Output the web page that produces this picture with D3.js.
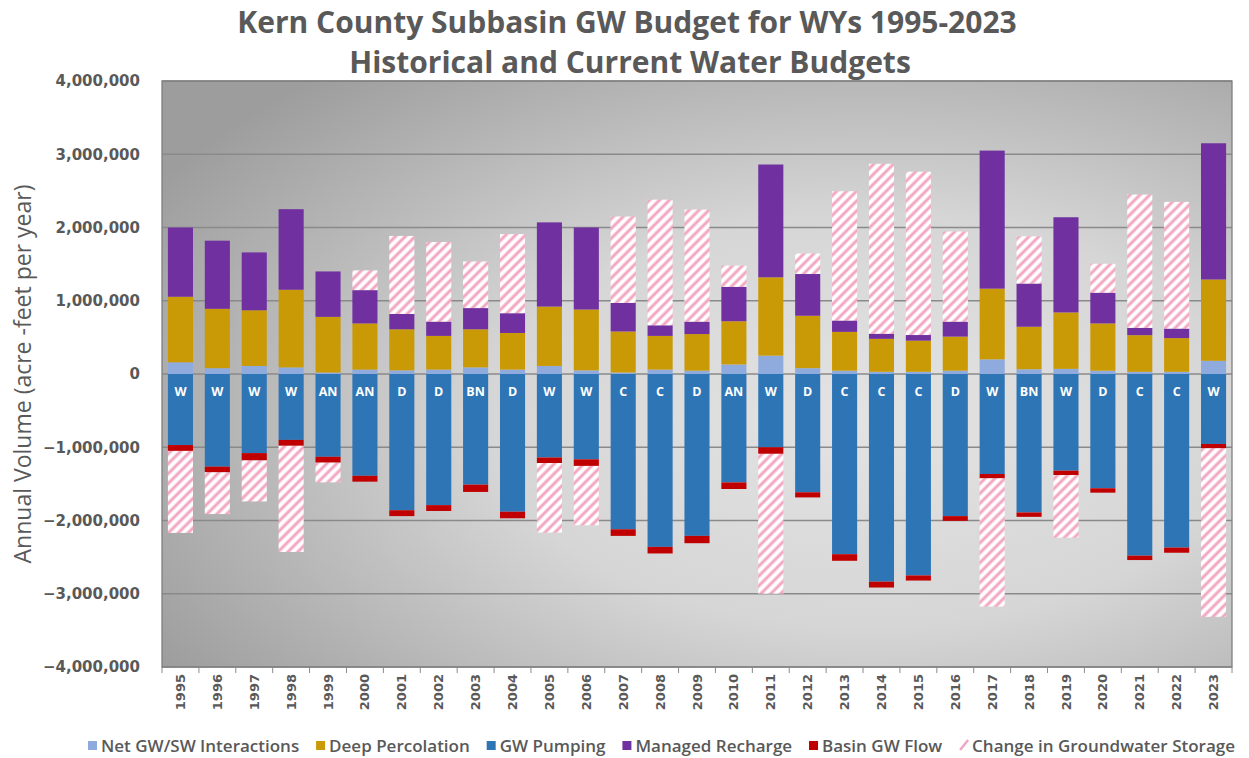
<!DOCTYPE html>
<html>
<head>
<meta charset="utf-8">
<script src="https://cdn.jsdelivr.net/npm/d3@7"></script>
<style>
    body { margin: 0; background: #fff; }
    svg { display: block; font-family: "Open Sans", sans-serif; }
</style>
</head>
<body>
<svg id="chart" width="1249" height="758"></svg>
<script>
// values in acre-feet
var years = ["1995","1996","1997","1998","1999","2000","2001","2002","2003","2004",
             "2005","2006","2007","2008","2009","2010","2011","2012","2013","2014",
             "2015","2016","2017","2018","2019","2020","2021","2022","2023"];
var yearTypes = ["W","W","W","W","AN","AN","D","D","BN","D",
                 "W","W","C","C","D","AN","W","D","C","C",
                 "C","D","W","BN","W","D","C","C","W"];
var netGWSW = [160000,80000,110000,90000,20000,60000,50000,60000,90000,60000,
               110000,50000,20000,60000,45000,130000,250000,80000,45000,30000,
               30000,45000,200000,65000,70000,45000,30000,30000,180000];
var deepPercolation = [895000,810000,760000,1060000,760000,630000,560000,460000,520000,500000,
                       810000,830000,560000,460000,500000,590000,1070000,715000,530000,450000,
                       425000,465000,965000,580000,770000,645000,500000,460000,1110000];
var gwPumping = [-970000,-1265000,-1080000,-900000,-1130000,-1390000,-1860000,-1790000,-1510000,-1880000,
                 -1140000,-1165000,-2120000,-2360000,-2210000,-1480000,-1000000,-1615000,-2460000,-2835000,
                 -2750000,-1940000,-1365000,-1890000,-1320000,-1560000,-2480000,-2370000,-955000];
var managedRecharge = [945000,930000,790000,1100000,620000,455000,210000,195000,290000,270000,
                       1150000,1120000,390000,145000,170000,470000,1540000,570000,155000,70000,
                       77000,205000,1885000,590000,1300000,420000,100000,130000,1860000];
var basinGWFlow = [-80000,-77000,-100000,-80000,-80000,-80000,-80000,-80000,-100000,-90000,
                   -75000,-90000,-90000,-90000,-100000,-90000,-90000,-70000,-90000,-80000,
                   -70000,-65000,-60000,-60000,-60000,-60000,-60000,-70000,-60000];
var storageChange = [-1120000,-570000,-560000,-1450000,-270000,270000,1065000,1087000,636000,1080000,
                     -950000,-810000,1180000,1715000,1530000,290000,-1910000,280000,1765000,2320000,
                     2230000,1230000,-1750000,645000,-855000,395000,1820000,1730000,-2300000];
var yTicks = [-4000000,-3000000,-2000000,-1000000,0,1000000,2000000,3000000,4000000];

var series = [
    {key: "net", name: "Net GW/SW Interactions", values: netGWSW, color: "#8faadc"},
    {key: "deep", name: "Deep Percolation", values: deepPercolation, color: "#c99a06"},
    {key: "pump", name: "GW Pumping", values: gwPumping, color: "#2e75b6"},
    {key: "recharge", name: "Managed Recharge", values: managedRecharge, color: "#7030a0"},
    {key: "basin", name: "Basin GW Flow", values: basinGWFlow, color: "#c00000"},
    {key: "storage", name: "Change in Groundwater Storage", values: storageChange, color: "url(#hatch)"}
];

var table = years.map(function (y, i) {
    var row = {year: y, type: yearTypes[i]};
    series.forEach(function (s) { row[s.key] = s.values[i]; });
    return row;
});

var svg = d3.select("#chart"),
    margin = {top: 81, right: 17, bottom: 91, left: 162},
    width = 1249 - margin.left - margin.right,
    height = 758 - margin.top - margin.bottom;

var defs = svg.append("defs");
var grad = defs.append("radialGradient")
    .attr("id", "bg")
    .attr("cx", "0.66").attr("cy", "0.58").attr("r", "0.78")
    .attr("fx", "0.66").attr("fy", "0.58");
grad.append("stop").attr("offset", "0").attr("stop-color", "#e3e3e3");
grad.append("stop").attr("offset", "0.45").attr("stop-color", "#d6d6d6");
grad.append("stop").attr("offset", "1").attr("stop-color", "#9d9d9d");

var hatch = defs.append("pattern")
    .attr("id", "hatch")
    .attr("patternUnits", "userSpaceOnUse")
    .attr("width", 7).attr("height", 7)
    .attr("patternTransform", "rotate(45)");
hatch.append("rect").attr("width", 7).attr("height", 7).attr("fill", "#ffffff");
hatch.append("line").attr("x1", 2).attr("y1", 0).attr("x2", 2).attr("y2", 7)
    .attr("stroke", "#f3a6c2").attr("stroke-width", 3);

var g = svg.append("g")
    .attr("transform", "translate(" + margin.left + "," + margin.top + ")");

var x = d3.scaleBand()
    .domain(years)
    .range([0, width])
    .paddingInner(0.32)
    .paddingOuter(0.16);
var y = d3.scaleLinear()
    .domain([-4000000, 4000000])
    .range([height, 0]);

// plot background
g.append("rect")
    .attr("width", width).attr("height", height)
    .attr("fill", "url(#bg)");

// gridlines
g.append("g")
    .selectAll("line")
    .data(yTicks)
    .join("line")
    .attr("x1", 0).attr("x2", width)
    .attr("y1", d => y(d)).attr("y2", d => y(d))
    .attr("stroke", "#8a8a8a")
    .attr("stroke-width", 1.3);

// stacked bars
var stack = d3.stack()
    .keys(series.map(s => s.key))
    .offset(d3.stackOffsetDiverging);
var stacked = stack(table);

g.append("g")
    .selectAll("g")
    .data(stacked)
    .join("g")
    .attr("fill", (d, i) => series[i].color)
    .selectAll("rect")
    .data(d => d)
    .join("rect")
    .attr("x", d => x(d.data.year))
    .attr("y", d => y(Math.max(d[0], d[1])))
    .attr("width", x.bandwidth())
    .attr("height", d => Math.abs(y(d[0]) - y(d[1])));

// water year type labels
g.append("g")
    .selectAll("text")
    .data(table)
    .join("text")
    .attr("x", d => x(d.year) + x.bandwidth() / 2)
    .attr("y", y(0) + 22)
    .attr("text-anchor", "middle")
    .attr("fill", "#ffffff")
    .style("font-size", "12.5px")
    .style("font-weight", "700")
    .text(d => d.type);

// plot border
g.append("rect")
    .attr("width", width).attr("height", height)
    .attr("fill", "none")
    .attr("stroke", "#7f7f7f")
    .attr("stroke-width", 1.3);

// Y axis labels
g.append("g")
    .selectAll("text")
    .data(yTicks)
    .join("text")
    .attr("x", -22)
    .attr("y", d => y(d))
    .attr("dy", "0.35em")
    .attr("text-anchor", "end")
    .attr("fill", "#595959")
    .style("font-family", "'DejaVu Sans', sans-serif")
    .style("font-size", "15px")
    .style("font-weight", "700")
    .text(d => d3.format(",")(d));

// X axis: ticks between categories + rotated year labels
var step = x.step();
g.append("g")
    .selectAll("line")
    .data(d3.range(years.length + 1))
    .join("line")
    .attr("x1", i => i * step).attr("x2", i => i * step)
    .attr("y1", height).attr("y2", height + 6)
    .attr("stroke", "#8a8a8a");

g.append("g")
    .selectAll("text")
    .data(years)
    .join("text")
    .attr("transform", d => "translate(" + (x(d) + x.bandwidth() / 2) + "," + (height + 7) + ") rotate(-90)")
    .attr("dy", "0.35em")
    .attr("text-anchor", "end")
    .attr("fill", "#595959")
    .style("font-family", "'DejaVu Sans', sans-serif")
    .style("font-size", "13px")
    .style("font-weight", "700")
    .text(d => d);

// Y axis title
svg.append("text")
    .attr("transform", "translate(31," + (margin.top + y(0)) + ") rotate(-90)")
    .attr("text-anchor", "middle")
    .attr("fill", "#595959")
    .style("font-size", "23px")
    .text("Annual Volume (acre -feet per year)");

// chart title
svg.append("text")
    .attr("x", 627).attr("y", 33)
    .attr("text-anchor", "middle")
    .attr("fill", "#595959")
    .style("font-size", "30px")
    .style("font-weight", "700")
    .text("Kern County Subbasin GW Budget for WYs 1995-2023");
svg.append("text")
    .attr("x", 630).attr("y", 73)
    .attr("text-anchor", "middle")
    .attr("fill", "#595959")
    .style("font-size", "30px")
    .style("font-weight", "700")
    .text("Historical and Current Water Budgets");

// legend, spread between x=88 and x=1235
var legend = svg.append("g").attr("transform", "translate(0,746)");
var items = series.map(function (s) {
    var item = legend.append("g");
    if (s.key === "storage") {
        item.append("path")
            .attr("d", "M1,4 L9,-6")
            .attr("stroke", "#f3a6c2")
            .attr("stroke-width", 2.5);
    } else {
        item.append("rect")
            .attr("x", 0).attr("y", -5)
            .attr("width", 9).attr("height", 9)
            .attr("fill", s.color);
    }
    var t = item.append("text")
        .attr("x", 13)
        .attr("y", 0)
        .attr("dy", "0.35em")
        .attr("fill", "#595959")
        .style("font-size", "17px")
        .style("font-weight", "600")
        .text(s.name);
    return {node: item, w: 13 + t.node().getComputedTextLength()};
});
var totalW = d3.sum(items, d => d.w);
var gap = (1235 - 88 - totalW) / (items.length - 1);
var lx = 88;
items.forEach(function (it) {
    it.node.attr("transform", "translate(" + lx + ",0)");
    lx += it.w + gap;
});
</script>
</body>
</html>
